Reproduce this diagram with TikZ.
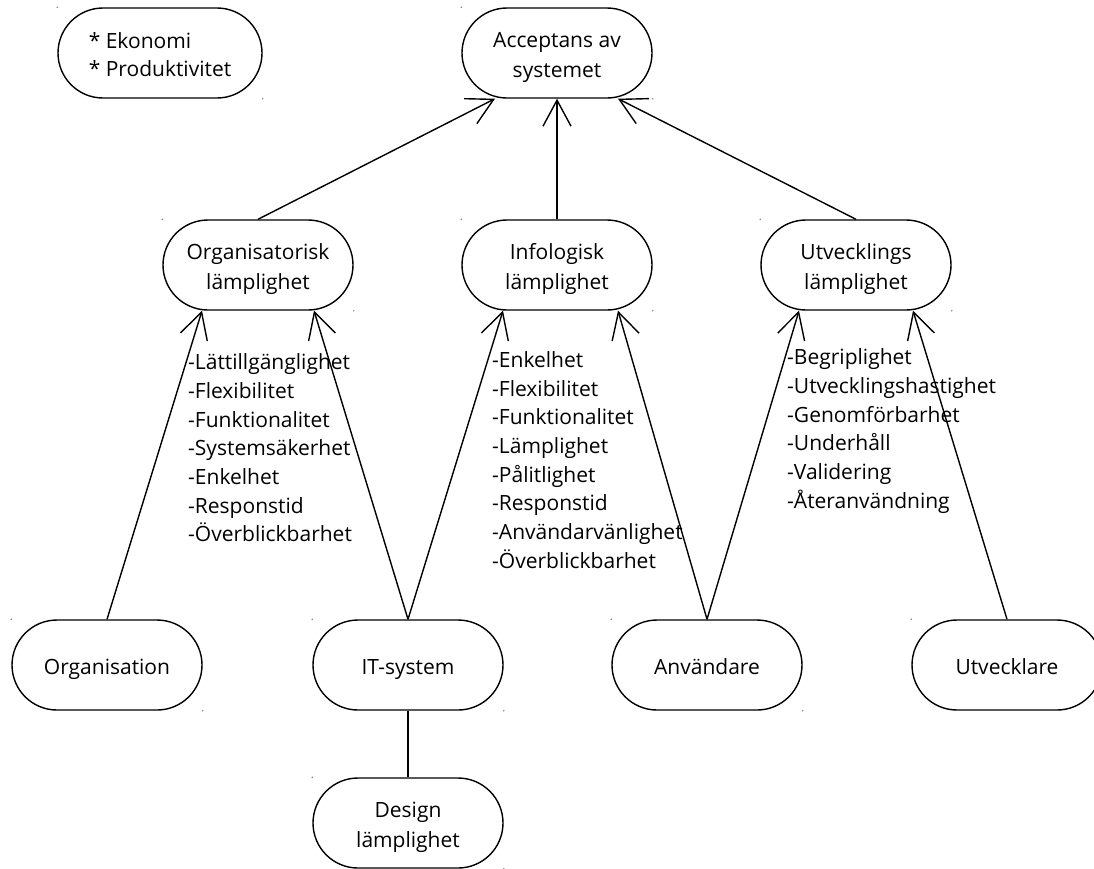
\documentclass[tikz,border=0pt]{standalone}
\usepackage{fontspec}
\setmainfont{Open Sans}
\usetikzlibrary{shapes.misc,arrows.meta}

% uniform line strut so every label sits at the same height
\newcommand\ls{\rule[-5pt]{0pt}{28.5pt}}

\tikzset{
  term/.style={rounded rectangle, draw, line width=1.4pt, minimum width=190pt,
    minimum height=90pt, inner sep=0pt, align=center,
    font=\fontsize{21}{28.5}\selectfont},
  listtext/.style={inner sep=0pt, align=left, anchor=west,
    font=\fontsize{21}{28.7}\selectfont},
  arr/.style={line width=1.4pt, -{Straight Barb[length=26pt,width=28pt,line width=1.4pt]}},
  link/.style={line width=1.4pt},
  handle/.style={fill=black!45, draw=none}
}

\begin{document}
\begin{tikzpicture}[x=1pt,y=-1pt]
\useasboundingbox (0,0) rectangle (1094,868);
\clip (0,0) rectangle (1094,868);

% top level
\node[term, minimum width=204pt, align=left] (eko) at (160,53) {\ls* Ekonomi\\\ls* Produktivitet};
\node[term] (acc) at (557,53) {\ls Acceptans av\\\ls systemet};

% suitability criteria
\node[term] (orgl) at (258,265) {\ls Organisatorisk\\\ls lämplighet};
\node[term] (infl) at (557,265) {\ls Infologisk\\\ls lämplighet};
\node[term] (utvl) at (856,265) {\ls Utvecklings\\\ls lämplighet};

% stakeholders
\node[term] (org) at (107,665) {\ls Organisation};
\node[term] (its) at (408,665) {\ls IT-system};
\node[term] (anv) at (707,665) {\ls Användare};
\node[term] (utv) at (1007,665) {\ls Utvecklare};
\node[term] (des) at (408,823) {\ls Design\\\ls lämplighet};

% attribute lists
\node[listtext] (l1) at (188,448) {-Lättillgänglighet\\-Flexibilitet\\-Funktionalitet\\-Systemsäkerhet\\-Enkelhet\\-Responstid\\-Överblickbarhet};
\node[listtext] (l2) at (492,460) {-Enkelhet\\-Flexibilitet\\-Funktionalitet\\-Lämplighet\\-Pålitlighet\\-Responstid\\-Användarvänlighet\\-Överblickbarhet};
\node[listtext] (l3) at (787,431) {-Begriplighet\\-Utvecklingshastighet\\-Genomförbarhet\\-Underhåll\\-Validering\\-Återanvändning};

% connectors
\draw[arr] (orgl.north) -- ([xshift=-62]acc.south);
\draw[arr] (infl.north) -- (acc.south);
\draw[arr] (utvl.north) -- ([xshift=61]acc.south);
\draw[arr] (org.north) -- ([xshift=-56]orgl.south);
\draw[arr] (its.north) -- ([xshift=56]orgl.south);
\draw[arr] (its.north) -- ([xshift=-54]infl.south);
\draw[arr] (anv.north) -- ([xshift=61]infl.south);
\draw[arr] (anv.north) -- ([xshift=-57]utvl.south);
\draw[arr] (utv.north) -- ([xshift=57]utvl.south);
\draw[link] (its.south) -- (des.north);

% corner handles
\foreach \n in {eko,acc,orgl,infl,utvl,org,its,anv,utv,des}{
  \fill[handle] (\n.west |- \n.north) circle (0.9pt);
  \fill[handle] (\n.east |- \n.south) circle (0.9pt);
}
\end{tikzpicture}
\end{document}
